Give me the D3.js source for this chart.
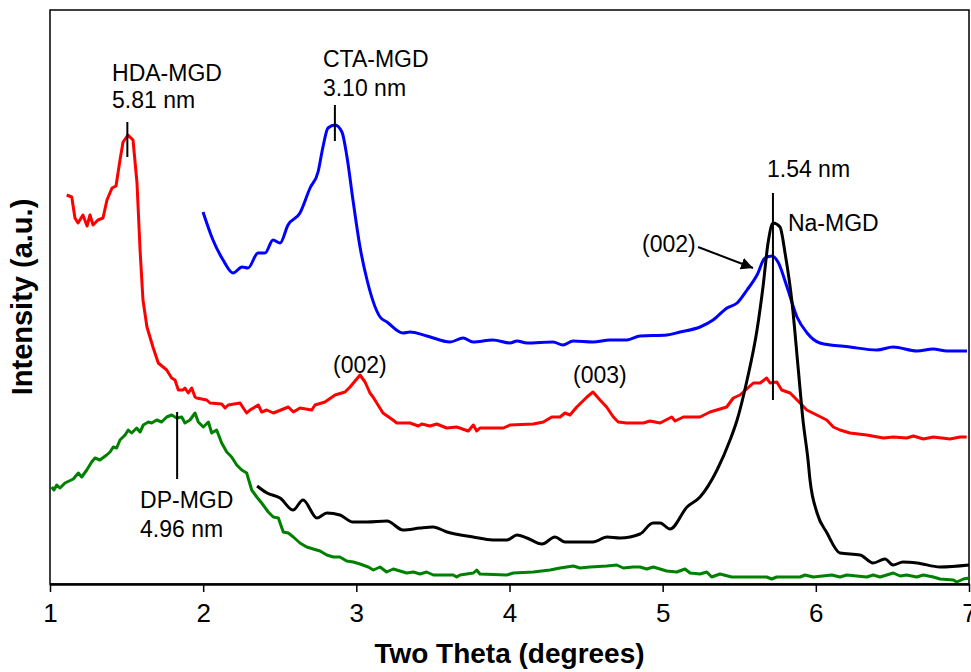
<!DOCTYPE html>
<html>
<head>
<meta charset="utf-8">
<script src="https://cdn.jsdelivr.net/npm/d3@7"></script>
<style>
  body { margin: 0; background: #fff; }
  svg { display: block; font-family: "Liberation Sans", Arial, sans-serif; }
</style>
</head>
<body>
<svg width="971" height="672"></svg>
<script>
const [WIDTH, HEIGHT] = [971, 672]

// two theta (degrees), intensity (a.u.)
const hdaMgd = [
  [1.109, 389], [1.142, 387], [1.163, 366], [1.183, 361], [1.215, 369], [1.242, 358], [1.261, 369],
  [1.281, 359], [1.313, 364], [1.346, 366], [1.372, 384], [1.405, 396], [1.431, 398], [1.457, 424],
  [1.477, 442], [1.509, 449], [1.542, 444], [1.568, 401], [1.588, 334], [1.607, 284], [1.633, 257],
  [1.672, 237], [1.707, 221], [1.762, 214], [1.794, 206], [1.816, 204], [1.838, 194], [1.868, 194],
  [1.881, 196], [1.903, 191], [1.925, 196], [1.947, 187], [1.958, 186], [2.023, 184], [2.045, 181],
  [2.121, 180], [2.143, 176], [2.164, 179], [2.241, 181], [2.262, 176], [2.284, 171], [2.306, 174],
  [2.360, 179], [2.382, 172], [2.415, 174], [2.458, 171], [2.491, 173], [2.556, 177], [2.589, 172],
  [2.632, 176], [2.709, 174], [2.730, 179], [2.795, 182], [2.861, 189], [2.926, 192], [2.959, 197],
  [3.024, 209], [3.057, 202], [3.089, 191], [3.109, 187], [3.174, 171], [3.239, 164], [3.264, 161],
  [3.350, 161], [3.405, 158], [3.427, 160], [3.481, 158], [3.525, 160], [3.557, 158], [3.590, 156],
  [3.655, 157], [3.731, 153], [3.764, 159], [3.786, 153], [3.807, 156], [3.960, 156], [4.003, 159],
  [4.155, 160], [4.221, 162], [4.276, 167], [4.330, 167], [4.362, 171], [4.395, 169], [4.439, 177],
  [4.506, 187], [4.545, 192], [4.591, 184], [4.634, 177], [4.678, 167], [4.710, 162], [4.765, 161],
  [4.874, 161], [4.917, 163], [4.983, 161], [5.059, 167], [5.081, 163], [5.135, 167], [5.244, 167],
  [5.309, 172], [5.418, 177], [5.461, 186], [5.505, 189], [5.592, 201], [5.636, 201], [5.679, 206],
  [5.701, 201], [5.745, 202], [5.777, 194], [5.832, 191], [5.897, 181], [5.941, 174], [6.006, 169],
  [6.071, 164], [6.114, 157], [6.158, 154], [6.223, 151], [6.332, 149], [6.441, 146], [6.506, 147],
  [6.593, 146], [6.637, 148], [6.702, 145], [6.767, 147], [6.876, 145], [6.941, 147], [6.985, 147]
]

const ctaMgd = [
  [1.999, 372], [2.064, 344], [2.130, 324], [2.195, 311], [2.254, 317], [2.293, 316], [2.358, 331],
  [2.404, 331], [2.456, 344], [2.502, 341], [2.554, 359], [2.632, 371], [2.698, 396], [2.750, 412],
  [2.782, 437], [2.815, 456], [2.861, 459], [2.906, 452], [2.939, 427], [2.978, 384], [3.024, 337],
  [3.070, 304], [3.155, 267], [3.200, 262], [3.305, 251], [3.350, 252], [3.461, 248], [3.612, 242],
  [3.697, 246], [3.762, 242], [3.892, 244], [4.003, 241], [4.049, 243], [4.114, 241], [4.284, 242],
  [4.349, 239], [4.415, 243], [4.545, 242], [4.656, 244], [4.767, 244], [4.852, 248], [5.028, 249],
  [5.113, 252], [5.244, 257], [5.329, 264], [5.420, 276], [5.486, 281], [5.551, 294], [5.616, 309],
  [5.668, 326], [5.714, 328], [5.753, 322], [5.812, 297], [5.877, 267], [5.943, 251], [6.027, 241],
  [6.223, 237], [6.400, 234], [6.504, 237], [6.661, 233], [6.765, 235], [6.857, 233], [6.987, 233]
]

const naMgd = [
  [2.352, 98], [2.417, 91], [2.502, 86], [2.587, 74], [2.652, 84], [2.743, 66], [2.808, 71],
  [2.893, 69], [2.978, 62], [3.070, 62], [3.200, 63], [3.305, 54], [3.416, 56], [3.501, 57],
  [3.592, 52], [3.762, 47], [3.892, 44], [3.984, 44], [4.049, 49], [4.114, 46], [4.212, 40],
  [4.297, 47], [4.363, 42], [4.545, 42], [4.637, 47], [4.722, 46], [4.852, 50], [4.937, 61],
  [4.983, 61], [5.048, 55], [5.159, 77], [5.244, 87], [5.355, 114], [5.440, 144], [5.486, 164],
  [5.551, 204], [5.616, 254], [5.655, 297], [5.688, 341], [5.721, 361], [5.766, 357], [5.799, 331],
  [5.845, 281], [5.884, 217], [5.916, 164], [5.949, 124], [5.962, 104], [6.008, 71], [6.073, 51],
  [6.158, 31], [6.289, 29], [6.374, 21], [6.452, 25], [6.504, 19], [6.569, 22], [6.661, 21],
  [6.811, 17], [7.000, 19]
]

const dpMgd = [
  [1.011, 97], [1.026, 94], [1.044, 99], [1.065, 96], [1.098, 101], [1.152, 105], [1.185, 111],
  [1.207, 107], [1.240, 114], [1.272, 122], [1.294, 126], [1.326, 124], [1.370, 129], [1.392, 132],
  [1.413, 137], [1.435, 136], [1.457, 144], [1.490, 149], [1.511, 154], [1.533, 151], [1.566, 156],
  [1.588, 152], [1.609, 159], [1.642, 162], [1.664, 161], [1.697, 164], [1.729, 162], [1.762, 167],
  [1.795, 169], [1.827, 166], [1.860, 167], [1.881, 161], [1.914, 164], [1.947, 171], [1.968, 162],
  [2.001, 157], [2.034, 162], [2.056, 151], [2.088, 154], [2.121, 141], [2.154, 132], [2.186, 127],
  [2.219, 119], [2.252, 114], [2.284, 111], [2.317, 94], [2.350, 87], [2.382, 81], [2.425, 72],
  [2.458, 67], [2.491, 66], [2.523, 52], [2.556, 51], [2.589, 47], [2.632, 41], [2.676, 37],
  [2.719, 35], [2.763, 33], [2.807, 29], [2.850, 27], [2.893, 27], [2.937, 23], [2.980, 22],
  [3.024, 20], [3.078, 17], [3.111, 14], [3.155, 17], [3.198, 12], [3.241, 15], [3.329, 11],
  [3.372, 12], [3.416, 10], [3.459, 12], [3.503, 9], [3.633, 9], [3.655, 7], [3.677, 9],
  [3.764, 11], [3.786, 14], [3.807, 10], [3.982, 9], [4.025, 11], [4.155, 12], [4.265, 14],
  [4.330, 16], [4.417, 18], [4.460, 16], [4.526, 17], [4.635, 18], [4.700, 19], [4.743, 16],
  [4.808, 17], [4.852, 17], [4.896, 15], [4.939, 17], [5.026, 13], [5.092, 12], [5.146, 15],
  [5.179, 11], [5.244, 10], [5.288, 12], [5.320, 7], [5.374, 10], [5.451, 7], [5.679, 7],
  [5.712, 5], [5.745, 7], [5.897, 7], [5.929, 9], [5.984, 7], [6.104, 9], [6.158, 7],
  [6.202, 9], [6.332, 7], [6.375, 9], [6.419, 7], [6.506, 11], [6.550, 8], [6.593, 9],
  [6.659, 7], [6.702, 9], [6.767, 7], [6.811, 5], [6.898, 4], [6.920, 2], [6.964, 5], [7.000, 6]
]

const xTicks = [1, 2, 3, 4, 5, 6, 7]

// peak markers: two theta, from / to intensity
const peakMarks = [
  [1.505, 427, 462],
  [2.860, 443, 479],
  [5.720, 184, 391],
  [1.830, 105, 172]
]

// labels: text, two theta, intensity (baseline)
const labels = [
  ["HDA-MGD", 1.405, 503], ["5.81 nm", 1.405, 476],
  ["CTA-MGD", 2.782, 517], ["3.10 nm", 2.782, 488],
  ["1.54 nm", 5.681, 407], ["Na-MGD", 5.818, 353],
  ["(002)", 4.865, 332], ["(002)", 2.848, 211], ["(003)", 4.415, 201],
  ["DP-MGD", 1.588, 76], ["4.96 nm", 1.588, 47]
]

const arrowFromTo = [[5.231, 337], [5.590, 316]]

// noisy traces drawn straight, the smoothed ones with a monotone curve
const series = [
  { data: hdaMgd, color: "#ff0000", smooth: false },
  { data: ctaMgd, color: "#0000ff", smooth: true },
  { data: naMgd, color: "#000000", smooth: true },
  { data: dpMgd, color: "#008000", smooth: false }
]

const svg = d3.select("svg").attr("viewBox", "0 0 " + WIDTH + " " + HEIGHT)

const x = d3.scaleLinear().domain([1, 7]).range([50, 969])
const y = d3.scaleLinear().domain([0, 574]).range([584, 10])

// frame
svg.append("rect")
  .attr("x", x(1)).attr("y", y(574))
  .attr("width", x(7) - x(1)).attr("height", y(0) - y(574))
  .attr("fill", "none").attr("stroke", "#000").attr("stroke-width", 1.5)

const straight = d3.line().x(d => x(d[0])).y(d => y(d[1]))
const smooth = d3.line().x(d => x(d[0])).y(d => y(d[1])).curve(d3.curveMonotoneX)

svg.append("g").selectAll("path")
  .data(series)
  .enter()
  .append("path")
  .attr("d", s => (s.smooth ? smooth : straight)(s.data))
  .attr("fill", "none")
  .attr("stroke", s => s.color)
  .attr("stroke-width", 3)
  .attr("stroke-linejoin", "round")

// x axis
const xAxis = svg.append("g")
  .attr("transform", "translate(0," + y(0) + ")")
  .call(d3.axisBottom(x).tickValues(xTicks).tickFormat(d3.format("d")).tickSizeInner(8).tickSizeOuter(0).tickPadding(12))
xAxis.select(".domain").attr("stroke-width", 2.5)
xAxis.selectAll(".tick line").attr("stroke-width", 1.5)
xAxis.selectAll("text").attr("font-size", 26).attr("font-family", "Liberation Sans, Arial, sans-serif").attr("fill", "#000")

svg.append("text")
  .attr("x", (x(1) + x(7)) / 2).attr("y", 663)
  .attr("text-anchor", "middle")
  .attr("font-size", 28).attr("font-weight", "bold")
  .text("Two Theta (degrees)")

svg.append("text")
  .attr("transform", "translate(32," + (y(0) + y(574)) / 2 + ") rotate(-90)")
  .attr("text-anchor", "middle")
  .attr("font-size", 29).attr("font-weight", "bold")
  .text("Intensity (a.u.)")

// peak markers
svg.append("g").selectAll("line")
  .data(peakMarks)
  .enter()
  .append("line")
  .attr("x1", d => x(d[0])).attr("x2", d => x(d[0]))
  .attr("y1", d => y(d[1])).attr("y2", d => y(d[2]))
  .attr("stroke", "#000").attr("stroke-width", 2)

svg.append("g").selectAll("text")
  .data(labels)
  .enter()
  .append("text")
  .attr("x", d => x(d[1])).attr("y", d => y(d[2]))
  .attr("font-size", 23)
  .text(d => d[0])

// arrow for (002)
svg.append("defs").append("marker")
  .attr("id", "arrow")
  .attr("viewBox", "0 0 10 10").attr("refX", 10).attr("refY", 5)
  .attr("markerWidth", 6).attr("markerHeight", 6)
  .attr("markerUnits", "strokeWidth")
  .attr("orient", "auto")
  .append("path").attr("d", "M0,0L10,5L0,10z").attr("fill", "#000")

svg.append("line")
  .attr("x1", x(arrowFromTo[0][0])).attr("y1", y(arrowFromTo[0][1]))
  .attr("x2", x(arrowFromTo[1][0])).attr("y2", y(arrowFromTo[1][1]))
  .attr("stroke", "#000").attr("stroke-width", 2)
  .attr("marker-end", "url(#arrow)")
</script>
</body>
</html>
